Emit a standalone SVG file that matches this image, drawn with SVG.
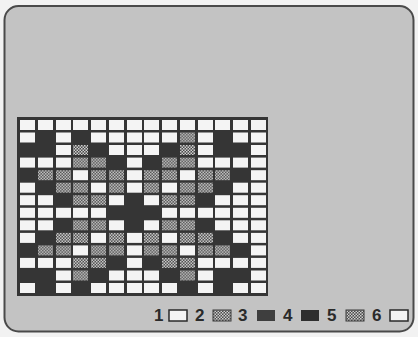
<svg xmlns="http://www.w3.org/2000/svg" width="418" height="337" viewBox="0 0 418 337">
<defs>
<pattern id="chk" width="3" height="3" patternUnits="userSpaceOnUse">
<rect width="3" height="3" fill="#4a4a4a"/>
<rect x="0" y="0" width="1.5" height="1.5" fill="#cfcfcf"/>
<rect x="1.5" y="1.5" width="1.5" height="1.5" fill="#cfcfcf"/>
</pattern>
</defs>
<style>
.w{fill:#f4f4f4}
.p{fill:url(#chk)}
.lg{font-family:"Liberation Sans",Arial,sans-serif;font-size:17px;font-weight:bold;fill:#2a2a2a}
</style>
<rect width="418" height="337" fill="#f2f2f2"/>
<rect id="panel" x="4.5" y="6" width="409" height="325.5" rx="14" fill="#c3c3c3" stroke="#4a4a4a" stroke-width="2"/>
<g id="grid">
<rect x="17" y="117" width="251" height="179" fill="#353535"/>
<g transform="translate(0,120)"><rect class="w" x="20" width="15" height="10"/><rect class="w" x="38" width="15" height="10"/><rect class="w" x="56" width="15" height="10"/><rect class="w" x="73" width="15" height="10"/><rect class="w" x="91" width="15" height="10"/><rect class="w" x="109" width="15" height="10"/><rect class="w" x="127" width="15" height="10"/><rect class="w" x="144" width="15" height="10"/><rect class="w" x="162" width="15" height="10"/><rect class="w" x="180" width="15" height="10"/><rect class="w" x="198" width="15" height="10"/><rect class="w" x="215" width="15" height="10"/><rect class="w" x="233" width="15" height="10"/><rect class="w" x="251" width="15" height="10"/></g>
<g transform="translate(0,132.5)"><rect class="w" x="20" width="15" height="10"/><rect class="w" x="56" width="15" height="10"/><rect class="w" x="91" width="15" height="10"/><rect class="w" x="109" width="15" height="10"/><rect class="w" x="127" width="15" height="10"/><rect class="w" x="144" width="15" height="10"/><rect class="w" x="162" width="15" height="10"/><rect class="p" x="180" width="15" height="10"/><rect class="w" x="198" width="15" height="10"/><rect class="w" x="233" width="15" height="10"/><rect class="w" x="251" width="15" height="10"/></g>
<g transform="translate(0,145)"><rect class="w" x="56" width="15" height="10"/><rect class="p" x="73" width="15" height="10"/><rect class="w" x="109" width="15" height="10"/><rect class="w" x="127" width="15" height="10"/><rect class="w" x="144" width="15" height="10"/><rect class="p" x="180" width="15" height="10"/><rect class="w" x="198" width="15" height="10"/><rect class="w" x="251" width="15" height="10"/></g>
<g transform="translate(0,157.6)"><rect class="w" x="20" width="15" height="10"/><rect class="w" x="38" width="15" height="10"/><rect class="w" x="56" width="15" height="10"/><rect class="p" x="73" width="15" height="10"/><rect class="p" x="91" width="15" height="10"/><rect class="w" x="127" width="15" height="10"/><rect class="p" x="162" width="15" height="10"/><rect class="p" x="180" width="15" height="10"/><rect class="w" x="198" width="15" height="10"/><rect class="w" x="215" width="15" height="10"/><rect class="w" x="233" width="15" height="10"/><rect class="w" x="251" width="15" height="10"/></g>
<g transform="translate(0,170.2)"><rect class="p" x="38" width="15" height="10"/><rect class="p" x="56" width="15" height="10"/><rect class="w" x="73" width="15" height="10"/><rect class="p" x="91" width="15" height="10"/><rect class="p" x="109" width="15" height="10"/><rect class="w" x="127" width="15" height="10"/><rect class="p" x="144" width="15" height="10"/><rect class="p" x="162" width="15" height="10"/><rect class="w" x="180" width="15" height="10"/><rect class="p" x="198" width="15" height="10"/><rect class="p" x="215" width="15" height="10"/><rect class="w" x="251" width="15" height="10"/></g>
<g transform="translate(0,182.7)"><rect class="w" x="20" width="15" height="10"/><rect class="p" x="56" width="15" height="10"/><rect class="p" x="73" width="15" height="10"/><rect class="w" x="91" width="15" height="10"/><rect class="p" x="109" width="15" height="10"/><rect class="w" x="127" width="15" height="10"/><rect class="p" x="144" width="15" height="10"/><rect class="w" x="162" width="15" height="10"/><rect class="p" x="180" width="15" height="10"/><rect class="p" x="198" width="15" height="10"/><rect class="w" x="233" width="15" height="10"/><rect class="w" x="251" width="15" height="10"/></g>
<g transform="translate(0,195.2)"><rect class="w" x="20" width="15" height="10"/><rect class="w" x="38" width="15" height="10"/><rect class="p" x="73" width="15" height="10"/><rect class="p" x="91" width="15" height="10"/><rect class="w" x="109" width="15" height="10"/><rect class="w" x="144" width="15" height="10"/><rect class="p" x="162" width="15" height="10"/><rect class="p" x="180" width="15" height="10"/><rect class="w" x="215" width="15" height="10"/><rect class="w" x="233" width="15" height="10"/><rect class="w" x="251" width="15" height="10"/></g>
<g transform="translate(0,207.8)"><rect class="w" x="20" width="15" height="10"/><rect class="w" x="38" width="15" height="10"/><rect class="w" x="56" width="15" height="10"/><rect class="w" x="73" width="15" height="10"/><rect class="w" x="91" width="15" height="10"/><rect class="w" x="162" width="15" height="10"/><rect class="w" x="180" width="15" height="10"/><rect class="w" x="198" width="15" height="10"/><rect class="w" x="215" width="15" height="10"/><rect class="w" x="233" width="15" height="10"/><rect class="w" x="251" width="15" height="10"/></g>
<g transform="translate(0,220.3)"><rect class="w" x="20" width="15" height="10"/><rect class="w" x="38" width="15" height="10"/><rect class="p" x="73" width="15" height="10"/><rect class="p" x="91" width="15" height="10"/><rect class="w" x="109" width="15" height="10"/><rect class="w" x="144" width="15" height="10"/><rect class="p" x="162" width="15" height="10"/><rect class="p" x="180" width="15" height="10"/><rect class="w" x="215" width="15" height="10"/><rect class="w" x="233" width="15" height="10"/><rect class="w" x="251" width="15" height="10"/></g>
<g transform="translate(0,232.9)"><rect class="w" x="20" width="15" height="10"/><rect class="p" x="56" width="15" height="10"/><rect class="p" x="73" width="15" height="10"/><rect class="w" x="91" width="15" height="10"/><rect class="p" x="109" width="15" height="10"/><rect class="w" x="127" width="15" height="10"/><rect class="p" x="144" width="15" height="10"/><rect class="w" x="162" width="15" height="10"/><rect class="p" x="180" width="15" height="10"/><rect class="p" x="198" width="15" height="10"/><rect class="w" x="233" width="15" height="10"/><rect class="w" x="251" width="15" height="10"/></g>
<g transform="translate(0,245.4)"><rect class="p" x="38" width="15" height="10"/><rect class="p" x="56" width="15" height="10"/><rect class="w" x="73" width="15" height="10"/><rect class="p" x="91" width="15" height="10"/><rect class="p" x="109" width="15" height="10"/><rect class="w" x="127" width="15" height="10"/><rect class="p" x="144" width="15" height="10"/><rect class="p" x="162" width="15" height="10"/><rect class="w" x="180" width="15" height="10"/><rect class="p" x="198" width="15" height="10"/><rect class="p" x="215" width="15" height="10"/><rect class="w" x="251" width="15" height="10"/></g>
<g transform="translate(0,257.9)"><rect class="w" x="20" width="15" height="10"/><rect class="w" x="38" width="15" height="10"/><rect class="w" x="56" width="15" height="10"/><rect class="p" x="73" width="15" height="10"/><rect class="p" x="91" width="15" height="10"/><rect class="w" x="127" width="15" height="10"/><rect class="p" x="162" width="15" height="10"/><rect class="p" x="180" width="15" height="10"/><rect class="w" x="198" width="15" height="10"/><rect class="w" x="215" width="15" height="10"/><rect class="w" x="233" width="15" height="10"/><rect class="w" x="251" width="15" height="10"/></g>
<g transform="translate(0,270.5)"><rect class="w" x="56" width="15" height="10"/><rect class="p" x="73" width="15" height="10"/><rect class="w" x="109" width="15" height="10"/><rect class="w" x="127" width="15" height="10"/><rect class="w" x="144" width="15" height="10"/><rect class="p" x="180" width="15" height="10"/><rect class="w" x="198" width="15" height="10"/><rect class="w" x="251" width="15" height="10"/></g>
<g transform="translate(0,283)"><rect class="w" x="20" width="15" height="10"/><rect class="w" x="56" width="15" height="10"/><rect class="w" x="91" width="15" height="10"/><rect class="w" x="109" width="15" height="10"/><rect class="w" x="127" width="15" height="10"/><rect class="w" x="144" width="15" height="10"/><rect class="w" x="162" width="15" height="10"/><rect class="w" x="198" width="15" height="10"/><rect class="w" x="233" width="15" height="10"/><rect class="w" x="251" width="15" height="10"/></g>
</g>
<g id="legend">
<text class="lg" x="154" y="321">1</text>
<rect x="169" y="310" width="18" height="11" fill="#f4f4f4" stroke="#2a2a2a" stroke-width="1.5"/>
<text class="lg" x="195" y="321">2</text>
<rect x="213" y="310" width="18" height="11" fill="url(#chk)" stroke="#3a3a3a" stroke-width="1"/>
<text class="lg" x="238" y="321">3</text>
<rect x="257" y="310" width="18" height="11" fill="#3e3e3e"/>
<text class="lg" x="283" y="321">4</text>
<rect x="301" y="310" width="18" height="11" fill="#2e2e2e"/>
<text class="lg" x="327" y="321">5</text>
<rect x="346" y="310" width="18" height="11" fill="url(#chk)" stroke="#3a3a3a" stroke-width="1"/>
<text class="lg" x="372" y="321">6</text>
<rect x="390" y="310" width="18" height="11" fill="#f4f4f4" stroke="#2a2a2a" stroke-width="1.5"/>
</g>
</svg>
